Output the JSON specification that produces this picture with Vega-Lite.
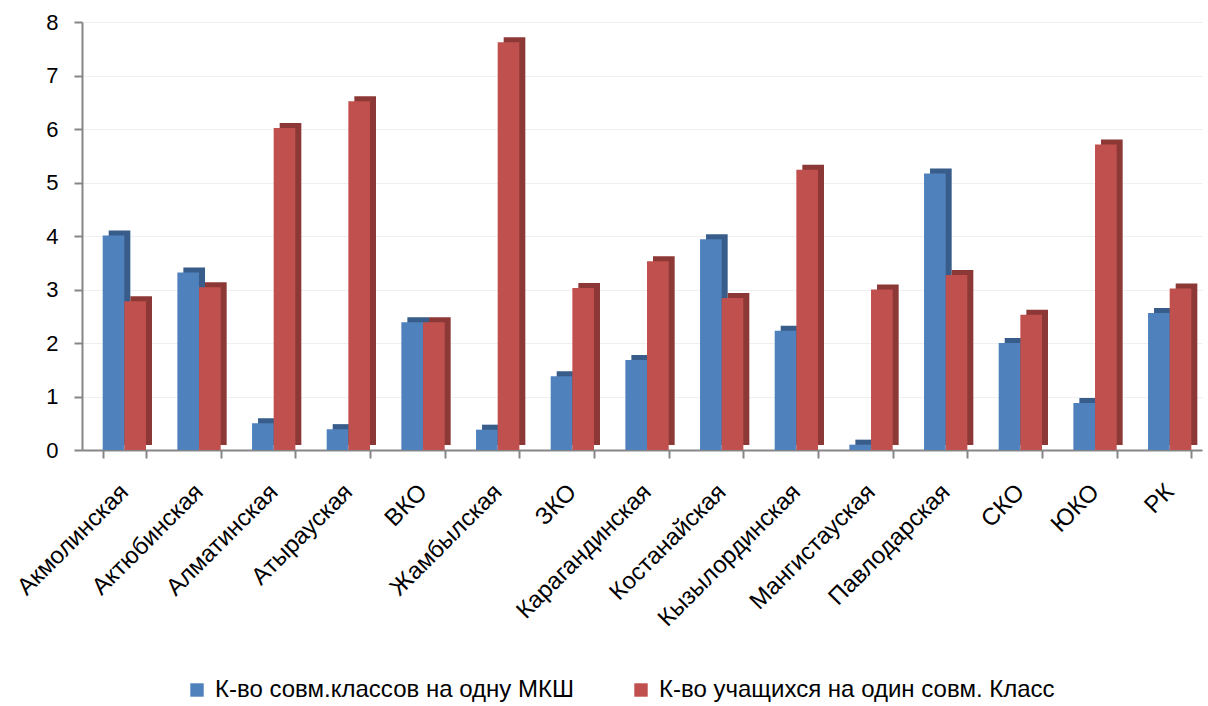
{
  "$schema": "https://vega.github.io/schema/vega-lite/v6.json",
  "autosize": {"type": "none"},
  "width": 1120,
  "height": 428,
  "padding": {"left": 82, "top": 22, "right": 6, "bottom": 256},
  "background": "white",
  "config": {"view": {"stroke": null}, "font": "Liberation Sans"},
  "data": {"values": [
    {"region": "Акмолинская", "series": "К-во совм.классов на одну МКШ", "value": 4.01},
    {"region": "Акмолинская", "series": "К-во учащихся на один совм. Класс", "value": 2.78},
    {"region": "Актюбинская", "series": "К-во совм.классов на одну МКШ", "value": 3.32},
    {"region": "Актюбинская", "series": "К-во учащихся на один совм. Класс", "value": 3.04},
    {"region": "Алматинская", "series": "К-во совм.классов на одну МКШ", "value": 0.5},
    {"region": "Алматинская", "series": "К-во учащихся на один совм. Класс", "value": 6.02},
    {"region": "Атырауская", "series": "К-во совм.классов на одну МКШ", "value": 0.39},
    {"region": "Атырауская", "series": "К-во учащихся на один совм. Класс", "value": 6.52},
    {"region": "ВКО", "series": "К-во совм.классов на одну МКШ", "value": 2.39},
    {"region": "ВКО", "series": "К-во учащихся на один совм. Класс", "value": 2.39},
    {"region": "Жамбылская", "series": "К-во совм.классов на одну МКШ", "value": 0.38},
    {"region": "Жамбылская", "series": "К-во учащихся на один совм. Класс", "value": 7.62},
    {"region": "ЗКО", "series": "К-во совм.классов на одну МКШ", "value": 1.38},
    {"region": "ЗКО", "series": "К-во учащихся на один совм. Класс", "value": 3.03},
    {"region": "Карагандинская", "series": "К-во совм.классов на одну МКШ", "value": 1.68},
    {"region": "Карагандинская", "series": "К-во учащихся на один совм. Класс", "value": 3.53},
    {"region": "Костанайская", "series": "К-во совм.классов на одну МКШ", "value": 3.94},
    {"region": "Костанайская", "series": "К-во учащихся на один совм. Класс", "value": 2.84},
    {"region": "Кызылординская", "series": "К-во совм.классов на одну МКШ", "value": 2.23},
    {"region": "Кызылординская", "series": "К-во учащихся на один совм. Класс", "value": 5.24},
    {"region": "Мангистауская", "series": "К-во совм.классов на одну МКШ", "value": 0.1},
    {"region": "Мангистауская", "series": "К-во учащихся на один совм. Класс", "value": 3.0},
    {"region": "Павлодарская", "series": "К-во совм.классов на одну МКШ", "value": 5.17},
    {"region": "Павлодарская", "series": "К-во учащихся на один совм. Класс", "value": 3.27},
    {"region": "СКО", "series": "К-во совм.классов на одну МКШ", "value": 2.0},
    {"region": "СКО", "series": "К-во учащихся на один совм. Класс", "value": 2.53},
    {"region": "ЮКО", "series": "К-во совм.классов на одну МКШ", "value": 0.88},
    {"region": "ЮКО", "series": "К-во учащихся на один совм. Класс", "value": 5.71},
    {"region": "РК", "series": "К-во совм.классов на одну МКШ", "value": 2.56},
    {"region": "РК", "series": "К-во учащихся на один совм. Класс", "value": 3.02}
  ]},
  "encoding": {
    "x": {
      "field": "region", "type": "nominal", "sort": null,
      "scale": {"paddingInner": 0.42, "paddingOuter": 0.21, "align": 0.66},
      "axis": {
        "title": null, "labelAngle": -45, "labelAlign": "right", "labelBaseline": "middle",
        "labelFontSize": 24, "labelColor": "#000000", "labelPadding": 30, "labelLimit": 400,
        "domainColor": "#868686", "domainWidth": 2, "tickColor": "#868686", "tickWidth": 2,
        "tickSize": 8, "tickBand": "extent", "grid": false, "labelFont": "Liberation Sans"
      }
    },
    "y": {
      "field": "value", "type": "quantitative",
      "scale": {"domain": [0, 8], "nice": false},
      "axis": {
        "title": null, "values": [0, 1, 2, 3, 4, 5, 6, 7, 8], "labelFontSize": 22,
        "labelColor": "#000000", "labelPadding": 16, "domainColor": "#868686", "domainWidth": 2,
        "tickColor": "#868686", "tickWidth": 2, "tickSize": 8,
        "grid": true, "gridColor": "#efefef", "gridWidth": 1
      }
    }
  },
  "layer": [
    {
      "mark": {"type": "bar", "yOffset": -5},
      "encoding": {
        "xOffset": {"field": "series", "type": "nominal", "scale": {"range": [6, 49.3], "paddingInner": 0, "paddingOuter": 0}},
        "color": {
          "field": "series", "type": "nominal", "legend": null,
          "scale": {"range": ["#385D8A", "#8C3836"]}
        }
      }
    },
    {
      "mark": {"type": "bar"},
      "encoding": {
        "xOffset": {"field": "series", "type": "nominal", "scale": {"paddingInner": 0, "paddingOuter": 0}},
        "color": {
          "field": "series", "type": "nominal",
          "scale": {"range": ["#4F81BD", "#C0504D"]},
          "legend": {
            "title": null, "orient": "none", "direction": "horizontal",
            "legendX": 103, "legendY": 656, "symbolType": "square", "symbolSize": 180,
            "symbolStrokeWidth": 0, "labelFontSize": 24, "labelColor": "#000000",
            "columnPadding": 55, "labelLimit": 600, "labelOffset": 6, "labelFont": "Liberation Sans"
          }
        }
      }
    }
  ],
  "resolve": {"scale": {"color": "independent", "xOffset": "independent"}, "legend": {"color": "independent"}}
}
